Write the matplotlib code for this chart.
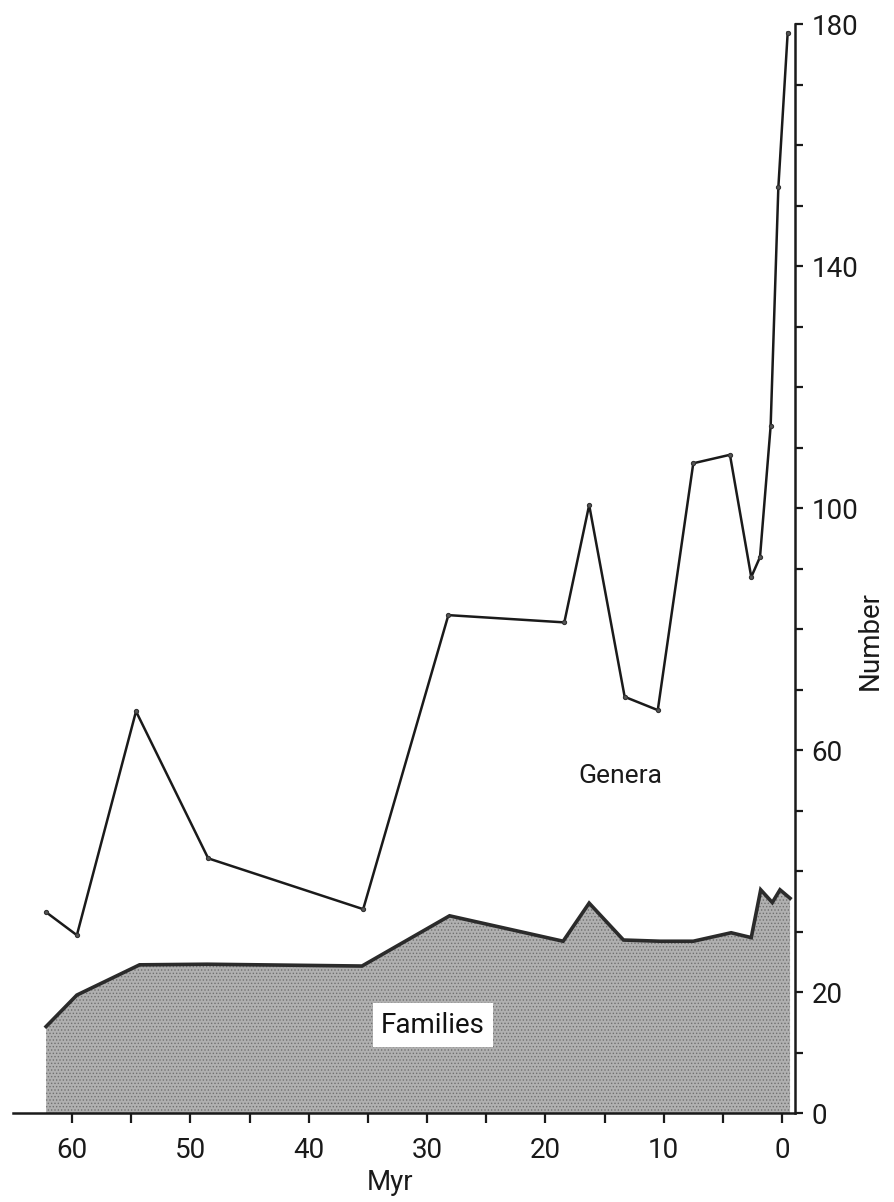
import matplotlib
matplotlib.use("Agg")
import matplotlib.pyplot as plt

plt.rcParams['font.family'] = ['Roboto', 'DejaVu Sans']
plt.rcParams['hatch.linewidth'] = 0.6

# Data (Myr before present, number)
genera_myr = [62.2, 59.6, 54.6, 48.5, 35.4, 28.2, 18.4, 16.3, 13.3, 10.5, 7.5, 4.4, 2.6, 1.86, 0.96, 0.31, -0.48]
genera_num = [33.2, 29.4, 66.4, 42.1, 33.7, 82.3, 81.1, 100.5, 68.8, 66.6, 107.4, 108.8, 88.6, 91.9, 113.6, 153.0, 178.6]

families_myr = [62.2, 59.6, 54.3, 48.6, 35.5, 28.1, 18.5, 16.3, 13.4, 10.3, 7.5, 4.3, 2.6, 1.8, 0.82, 0.17, -0.68]
families_num = [14.3, 19.5, 24.5, 24.6, 24.3, 32.6, 28.4, 34.7, 28.6, 28.4, 28.4, 29.8, 29.0, 36.9, 34.8, 36.9, 35.5]

x_ticks = [60, 50, 40, 30, 20, 10, 0]
x_minor = [55, 45, 35, 25, 15, 5]
y_ticks = list(range(0, 181, 10))
y_labels = {0: '0', 20: '20', 60: '60', 100: '100', 140: '140', 180: '180'}

fig = plt.figure(figsize=(8.95, 12.02), dpi=100)
ax = fig.add_axes([0.0145, 0.074, 0.8738, 0.906])

ax.fill_between(families_myr, families_num, 0, facecolor='#b0b0b0', edgecolor='#707070',
                hatch='.....', linewidth=0, zorder=1)
ax.plot(families_myr, families_num, color='#2b2b2b', lw=2.6, solid_joinstyle='miter', zorder=3)
ax.plot(genera_myr, genera_num, color='#1a1a1a', lw=1.8, marker='o', ms=3.0,
        mfc='#555555', mec='#333333', mew=0.8, zorder=4)

ax.set_xlim(65, -1.1)
ax.set_ylim(0, 180)

ax.spines['top'].set_visible(False)
ax.spines['left'].set_visible(False)
ax.spines['right'].set_linewidth(1.8)
ax.spines['bottom'].set_linewidth(1.8)
ax.spines['right'].set_color('#1a1a1a')
ax.spines['bottom'].set_color('#1a1a1a')

ax.yaxis.tick_right()
ax.set_yticks(y_ticks)
ax.set_yticklabels([y_labels.get(v, '') for v in y_ticks])
ax.set_xticks(x_ticks)
ax.set_xticks(x_minor, minor=True)
ax.set_xticklabels([str(v) for v in x_ticks])

ax.tick_params(axis='x', which='both', direction='out', length=7, width=1.6, colors='#1a1a1a',
               labelsize=20, pad=10)
ax.tick_params(axis='y', which='both', direction='out', length=6, width=1.6, colors='#1a1a1a',
               labelsize=20, pad=6, left=False, right=True)

fig.text(390 / 895, 1 - 1182 / 1202, 'Myr', fontsize=20, ha='center', va='center', color='#1a1a1a')
fig.text(870 / 895, 1 - 640 / 1202, 'Number', fontsize=20, ha='center', va='center',
         rotation=90, color='#1a1a1a')

ax.text(13.7, 55.7, 'Genera', fontsize=19, ha='center', va='center', color='#1a1a1a', zorder=5)
ax.text(29.5, 14.5, 'Families', fontsize=20, ha='center', va='center', color='#111111', zorder=5,
        bbox=dict(boxstyle='square,pad=0.3', facecolor='white', edgecolor='none'))

fig.savefig('out.png', dpi=100, facecolor='white')
